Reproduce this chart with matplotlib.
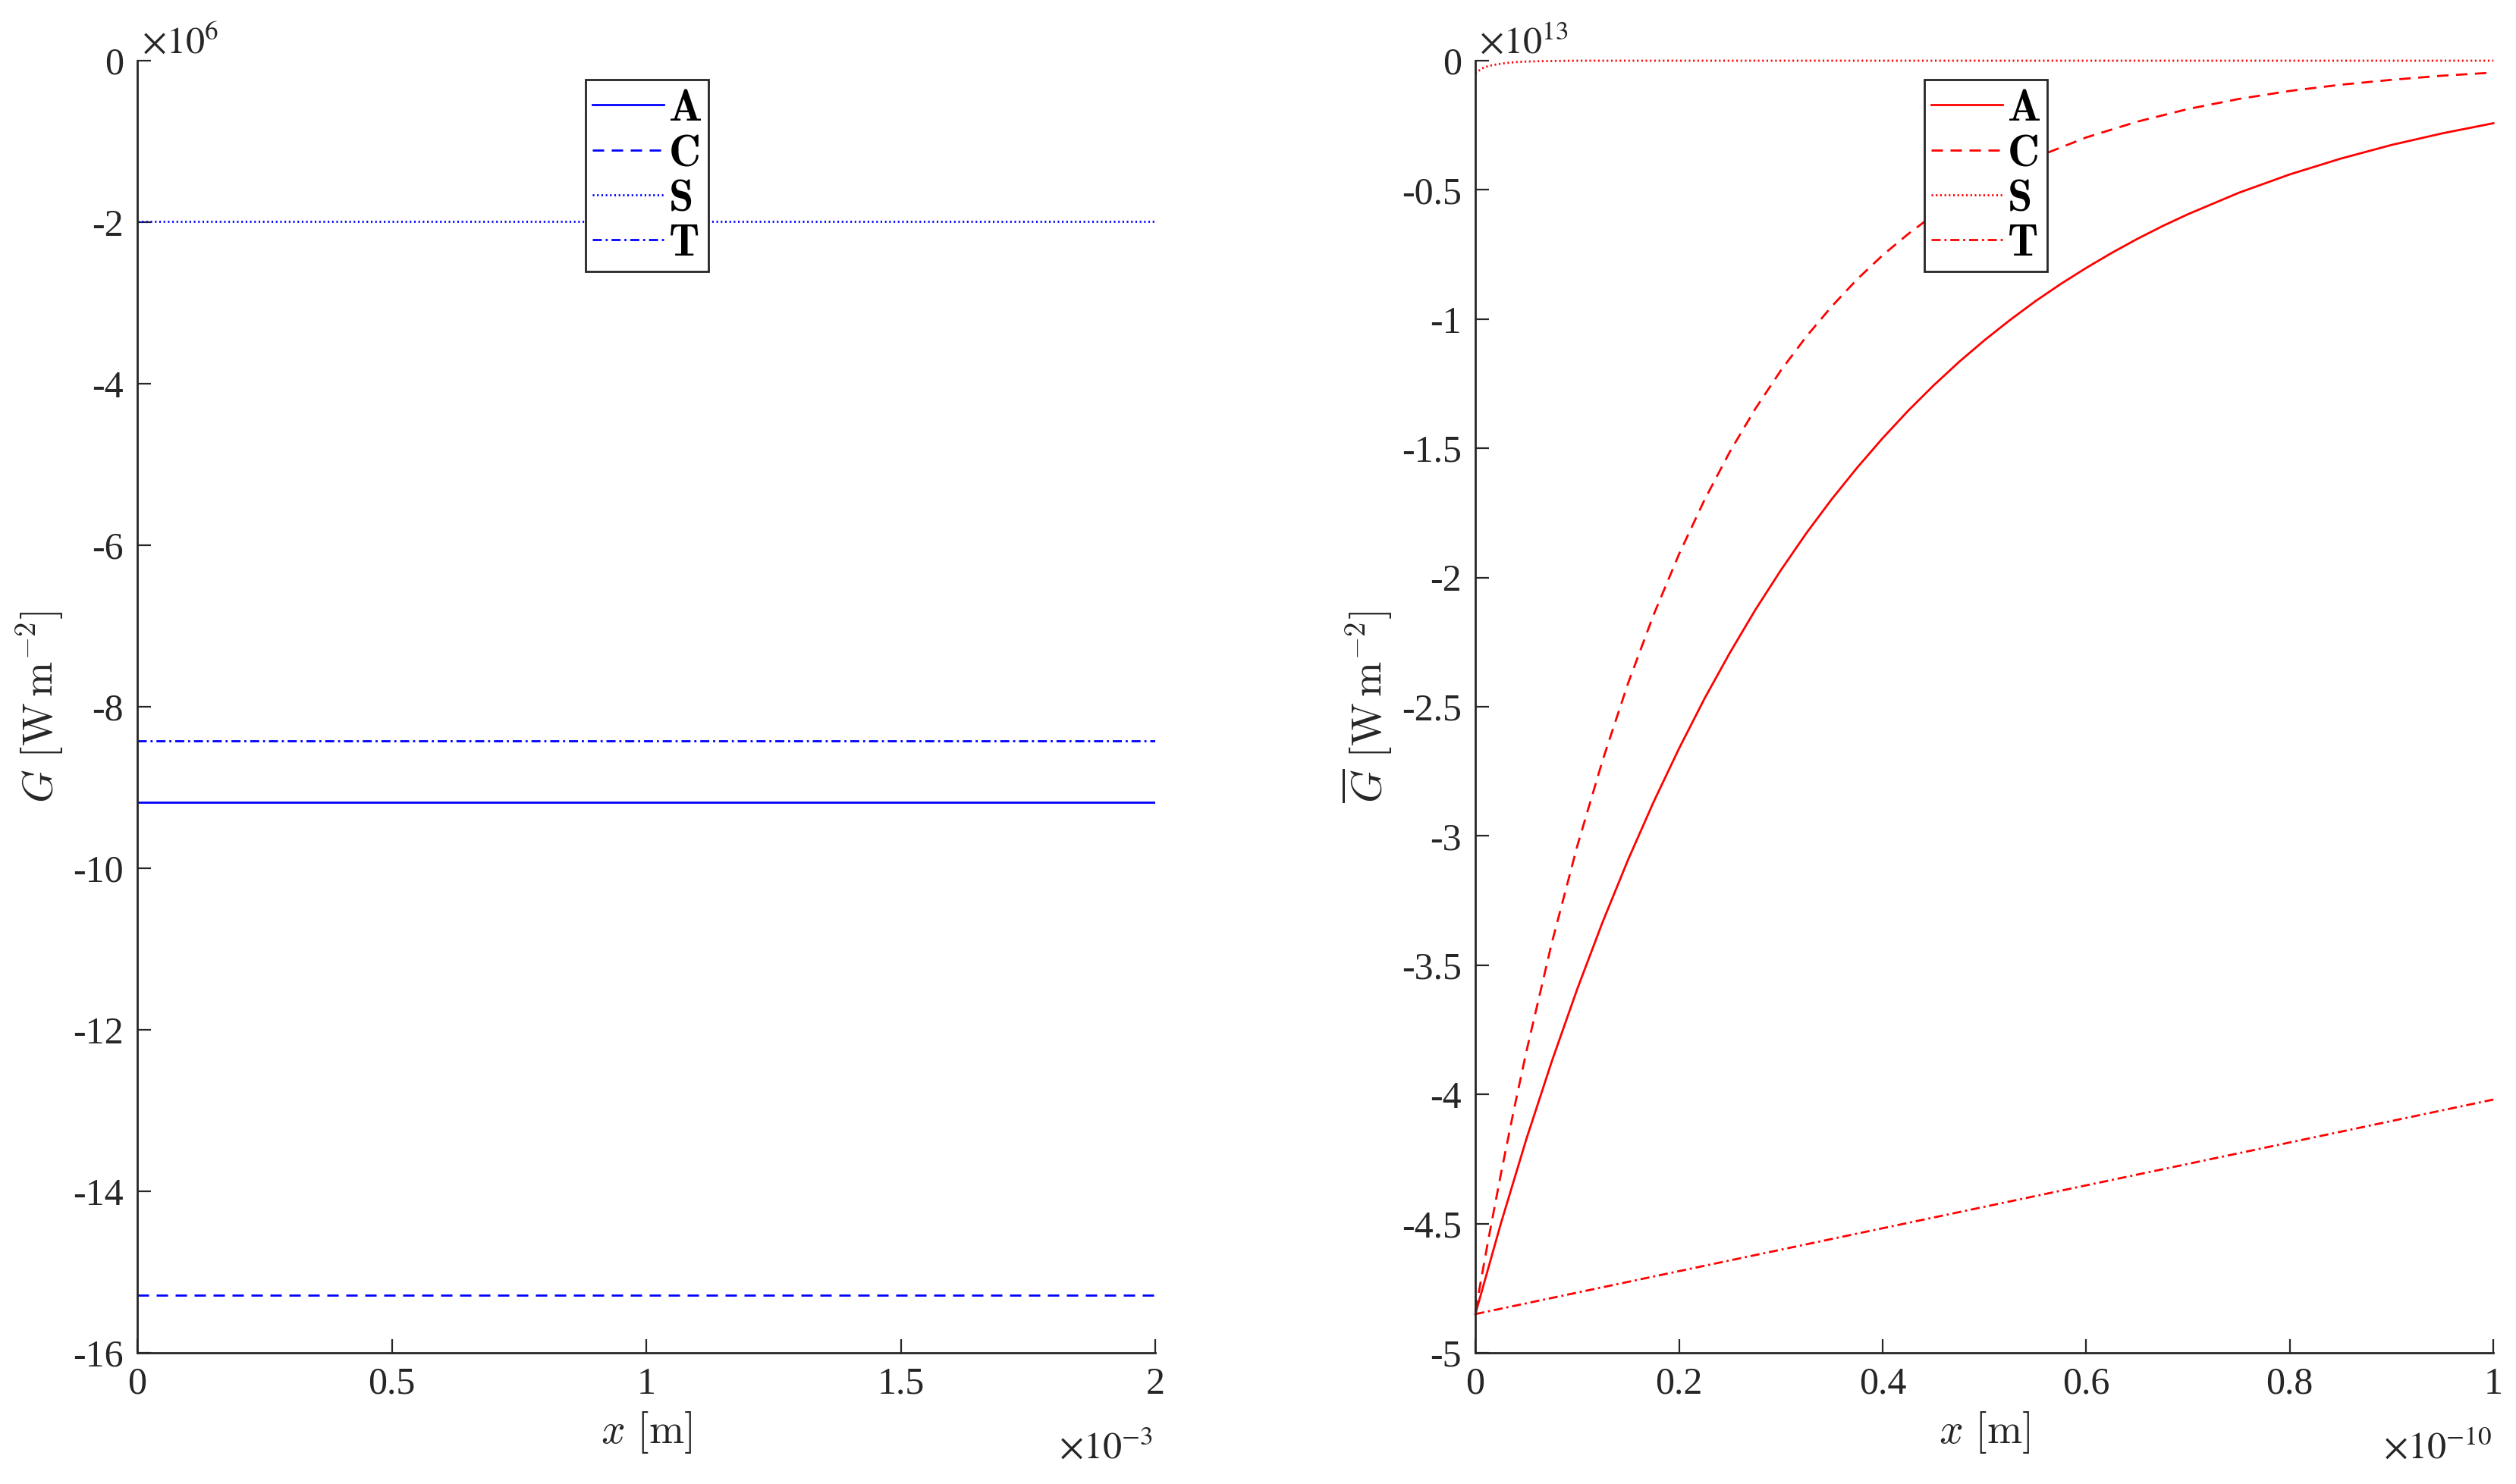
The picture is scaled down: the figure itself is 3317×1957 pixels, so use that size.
import matplotlib
matplotlib.use("Agg")
import matplotlib.pyplot as plt
from matplotlib.ticker import FuncFormatter

plt.rcParams['mathtext.fontset'] = 'cm'
plt.rcParams['axes.unicode_minus'] = False

# ---------------- data ----------------
labels = ['A', 'C', 'S', 'T']

# Left panel: x in units of 1e-3 m, G in units of 1e6 W m^-2
left_x = [0.0, 2.0]
left_A = [-9.18, -9.18]
left_C = [-15.29, -15.29]
left_S = [-1.99, -1.99]
left_T = [-8.42, -8.42]

# Right panel: x in units of 1e-10 m, Gbar in units of 1e13 W m^-2
right_A_x = [0, 0.025, 0.05, 0.075, 0.1, 0.125, 0.15, 0.175, 0.2, 0.225, 0.25,
             0.275, 0.3, 0.325, 0.35, 0.375, 0.4, 0.425, 0.45, 0.475, 0.5,
             0.525, 0.55, 0.575, 0.6, 0.625, 0.65, 0.675, 0.7, 0.75, 0.8,
             0.85, 0.9, 0.95, 1.0]
right_A_y = [-4.85, -4.50, -4.174, -3.873, -3.593, -3.333, -3.092, -2.869,
             -2.662, -2.469, -2.291, -2.125, -1.972, -1.829, -1.697, -1.575,
             -1.461, -1.355, -1.257, -1.166, -1.082, -1.004, -0.931, -0.864,
             -0.802, -0.744, -0.690, -0.640, -0.594, -0.511, -0.440, -0.379,
             -0.326, -0.281, -0.242]

right_C_x = [0, 0.0125, 0.025, 0.0375, 0.05, 0.075, 0.1, 0.125, 0.15, 0.175,
             0.2, 0.225, 0.25, 0.275, 0.3, 0.325, 0.35, 0.375, 0.4, 0.425,
             0.45, 0.475, 0.5, 0.55, 0.6, 0.65, 0.7, 0.75, 0.8, 0.85, 0.9,
             0.95, 1.0]
right_C_y = [-4.84, -4.567, -4.309, -4.066, -3.836, -3.415, -3.040, -2.707,
             -2.409, -2.145, -1.910, -1.700, -1.513, -1.347, -1.199, -1.068,
             -0.951, -0.846, -0.753, -0.671, -0.597, -0.532, -0.473, -0.375,
             -0.297, -0.236, -0.187, -0.148, -0.117, -0.093, -0.074, -0.058,
             -0.046]

right_S_x = [0, 0.003, 0.006, 0.01, 0.016, 0.022, 0.029, 0.035, 0.041, 0.053,
             0.065, 0.078, 0.09, 0.103, 1.0]
right_S_y = [-0.05, -0.040, -0.031, -0.024, -0.018, -0.0135, -0.0098, -0.007,
             -0.005, -0.003, -0.0018, -0.001, -0.0004, 0.0, 0.0]

right_T_x = [0, 0.5, 1.0]
right_T_y = [-4.85, -4.435, -4.02]

left_yticks = [0, -2, -4, -6, -8, -10, -12, -14, -16]
left_xticks = [0, 0.5, 1, 1.5, 2]
right_yticks = [0, -0.5, -1, -1.5, -2, -2.5, -3, -3.5, -4, -4.5, -5]
right_xticks = [0, 0.2, 0.4, 0.6, 0.8, 1]

# ---------------- style ----------------
AXC = '#262626'
LW = 1.0
styles = {
    'A': dict(linestyle='-'),
    'C': dict(linestyle=(0, (5.4, 3.6))),
    'S': dict(linestyle=(0, (0.75, 1.3))),
    'T': dict(linestyle=(0, (4.3, 1.8, 1.0, 1.8))),
}
TICKFONT = 'Liberation Serif'

fig = plt.figure(figsize=(3317 / 200, 1957 / 200), dpi=200)
ax1 = fig.add_axes([0.0546, 0.0884, 0.4046, 0.8707])
ax2 = fig.add_axes([0.5864, 0.0884, 0.4046, 0.8707])

fmt = FuncFormatter(lambda v, p: f'{v:g}')


def style_axes(ax, xlim, ylim, xticks, yticks):
    ax.set_xlim(*xlim)
    ax.set_ylim(*ylim)
    ax.set_xticks(xticks)
    ax.set_yticks(yticks)
    ax.xaxis.set_major_formatter(fmt)
    ax.yaxis.set_major_formatter(fmt)
    for s in ['top', 'right']:
        ax.spines[s].set_visible(False)
    for s in ['left', 'bottom']:
        ax.spines[s].set_color(AXC)
        ax.spines[s].set_linewidth(1.0)
    ax.tick_params(direction='in', length=6.5, width=0.8, color=AXC,
                   labelcolor=AXC, labelsize=18, pad=6.5)
    for lab in ax.get_xticklabels() + ax.get_yticklabels():
        lab.set_fontfamily(TICKFONT)


style_axes(ax1, (0, 2), (-16, 0), left_xticks, left_yticks)
style_axes(ax2, (0, 1), (-5, 0), right_xticks, right_yticks)

left_vals = {'A': left_A, 'C': left_C, 'S': left_S, 'T': left_T}
for k in labels:
    ax1.plot(left_x, left_vals[k], color='#0000ff', lw=LW,
             label=r'$\mathbf{%s}$' % k, **styles[k])

right_vals = {'A': (right_A_x, right_A_y), 'C': (right_C_x, right_C_y),
              'S': (right_S_x, right_S_y), 'T': (right_T_x, right_T_y)}
for k in labels:
    xx, yy = right_vals[k]
    ax2.plot(xx, yy, color='#ff0000', lw=LW, clip_on=False,
             label=r'$\mathbf{%s}$' % k, **styles[k])

for ax, bx in [(ax1, 772 / 3317), (ax2, 2537 / 3317)]:
    leg = ax.legend(loc='upper left', bbox_to_anchor=(bx, 1 - 105 / 1957),
                    bbox_transform=fig.transFigure, fontsize=21,
                    frameon=True, fancybox=False, framealpha=1,
                    edgecolor=AXC, handlelength=1.62, handletextpad=0.1,
                    borderpad=0.15, labelspacing=0.04, borderaxespad=0)
    leg.get_frame().set_linewidth(1.0)
    leg.set_zorder(5)

# axis labels
ax1.set_xlabel(r'$x\ [\mathrm{m}]$', fontsize=20, color=AXC)
ax2.set_xlabel(r'$x\ [\mathrm{m}]$', fontsize=20, color=AXC)
ax1.xaxis.set_label_coords(0.5, -0.044)
ax2.xaxis.set_label_coords(0.5, -0.044)
ax1.set_ylabel(r'$G\ [\mathrm{W\,m^{-2}}]$', fontsize=20, color=AXC)
ax2.set_ylabel(r'$\overline{G}\ [\mathrm{W\,m^{-2}}]$', fontsize=20, color=AXC)
ax1.yaxis.set_label_coords(-0.070, 0.5)
ax2.yaxis.set_label_coords(-0.0797, 0.5)

# exponent (offset) labels
offkw = dict(fontsize=18, color=AXC, math_fontfamily='stix')
ax1.text(0.0045, 1.0059, r'$\times10^{6}$', transform=ax1.transAxes,
         ha='left', va='baseline', **offkw)
ax2.text(0.004, 1.0059, r'$\times10^{13}$', transform=ax2.transAxes,
         ha='left', va='baseline', **offkw)
ax1.text(0.9978, -0.0816, r'$\times10^{-3}$', transform=ax1.transAxes,
         ha='right', va='baseline', **offkw)
ax2.text(0.9985, -0.0816, r'$\times10^{-10}$', transform=ax2.transAxes,
         ha='right', va='baseline', **offkw)

fig.savefig('out.png', dpi=200)
